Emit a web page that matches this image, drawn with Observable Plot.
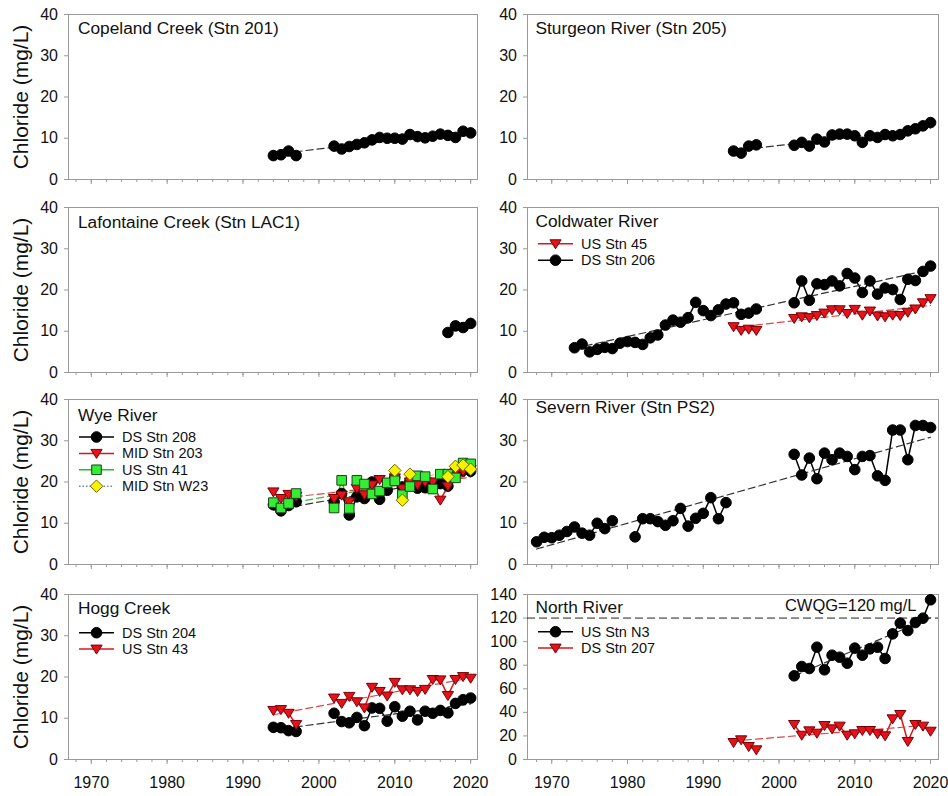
<!DOCTYPE html>
<html>
<head>
<meta charset="utf-8">
<script src="https://cdn.jsdelivr.net/npm/d3@7"></script>
<script src="https://cdn.jsdelivr.net/npm/@observablehq/plot@0.6"></script>
<style>
  body { margin: 0; background: #fff; }
  #wrap { position: relative; width: 948px; height: 796px; background: #fff; overflow: hidden; }
  .panel { position: absolute; }
</style>
</head>
<body>
<div id="wrap"></div>
<script>
// ---------------- DATA ----------------
// 1998 is a gap marker (null value) so lines break between 1997 and 2002
const yearsMain = [1994,1995,1996,1997,1998,2002,2003,2004,2005,2006,2007,2008,2009,2010,2011,2012,2013,2014,2015,2016,2017,2018,2019,2020];

const copelandCl  = [5.8,6.0,6.9,5.8,null,8.1,7.4,8.0,8.5,8.9,9.6,10.2,10.0,10.0,9.8,10.9,10.4,10.1,10.5,11.0,10.7,10.2,11.7,11.3];
const sturgeonCl  = [6.9,6.4,8.1,8.4,null,8.3,9.0,8.1,9.8,9.1,10.8,11.0,11.0,10.6,9.0,10.6,10.2,10.9,10.6,10.9,11.8,12.3,13.0,13.8];

const lafontaineYears = [2017,2018,2019,2020];
const lafontaineCl    = [9.7,11.3,10.9,11.9];

const coldwaterDSYears = [1973,1974,1975,1976,1977,1978,1979,1980,1981,1982,1983,1984,1985,1986,1987,1988,1989,1990,1991,1992,1993,1994,1995,1996,1997,1998,2002,2003,2004,2005,2006,2007,2008,2009,2010,2011,2012,2013,2014,2015,2016,2017,2018,2019,2020];
const coldwaterDSCl    = [6.0,6.9,5.0,5.6,6.1,5.8,7.1,7.5,7.3,6.8,8.4,9.1,11.5,12.7,12.2,13.3,17.0,15.0,13.8,15.2,16.6,16.9,14.1,14.4,15.4,null,16.9,22.2,17.5,21.5,21.3,22.2,21.0,24.0,22.9,19.4,22.2,19.0,20.5,20.1,17.7,22.6,22.3,24.5,25.8];
const coldwaterUSCl    = [11.1,10.2,10.5,10.2,null,13.1,13.5,13.3,13.8,14.4,15.2,15.2,14.3,15.3,13.9,14.9,13.7,13.5,13.9,13.8,14.6,15.4,16.9,17.9];

const wyeDSCl  = [14.5,13.0,14.3,15.2,null,15.2,17.2,12.0,16.4,16.0,20.0,15.8,18.0,21.1,18.8,20.2,18.5,18.6,19.2,19.6,19.0,22.0,22.8,22.6];
const wyeMIDCl = [17.6,16.0,17.0,16.5,null,16.0,16.8,15.2,18.4,16.9,19.3,20.6,19.5,21.0,18.4,20.0,19.3,20.0,20.0,15.6,19.0,22.4,22.6,23.0];
const wyeUSCl  = [15.0,13.7,14.8,17.2,null,13.7,20.4,13.6,20.4,19.5,17.1,17.8,19.8,20.3,16.9,18.9,21.5,21.3,18.3,21.9,21.9,21.0,24.6,24.4];
const wyeW23Years = [2010,2011,2012,2013,2017,2018,2019,2020];
const wyeW23Cl    = [22.8,15.6,21.9,null,21.3,23.8,24.1,23.1];

const severnYears = [1968,1969,1970,1971,1972,1973,1974,1975,1976,1977,1978,1979,1981,1982,1983,1984,1985,1986,1987,1988,1989,1990,1991,1992,1993,1994,2002,2003,2004,2005,2006,2007,2008,2009,2010,2011,2012,2013,2014,2015,2016,2017,2018,2019,2020];
const severnCl    = [5.5,6.6,6.5,7.1,8.0,9.1,7.6,7.1,10.0,8.7,10.6,null,6.7,11.1,11.1,10.4,9.5,10.6,13.6,9.3,11.2,12.4,16.2,11.1,15.0,null,26.7,21.7,25.8,20.8,27.0,25.4,27.0,26.2,23.0,26.2,26.4,21.5,20.4,32.6,32.6,25.4,33.7,33.7,33.2];

const hoggDSCl = [7.8,7.7,7.0,6.8,null,11.2,9.2,8.9,10.2,8.2,12.5,12.4,9.3,12.8,10.5,11.7,9.6,11.7,11.2,11.9,11.3,13.6,14.5,14.9];
const hoggUSCl = [11.9,12.1,11.2,8.5,null,14.9,13.6,15.3,14.0,12.5,17.5,16.5,15.4,18.7,16.9,16.9,16.5,17.0,19.4,19.3,15.5,19.4,20.1,19.7];

const northUSYears = [2002,2003,2004,2005,2006,2007,2008,2009,2010,2011,2012,2013,2014,2015,2016,2017,2018,2019,2020];
const northUSCl    = [71.0,78.9,77.2,95.3,76.1,88.5,86.8,81.7,94.5,88.5,93.9,95.3,85.7,106.6,115.7,109.4,116.2,119.9,135.5];
const northDSCl    = [14.4,16.7,11.0,8.2,null,29.7,20.6,24.3,22.3,28.8,26.0,28.3,20.6,21.8,24.6,24.6,21.8,20.1,34.5,38.2,15.3,29.7,28.3,24.0];
const cwqg = 120;

const xMajorTicks = [1970,1980,1990,2000,2010,2020];
const xMinorTicks = [1968,1970,1972,1974,1976,1978,1980,1982,1984,1986,1988,1990,1992,1994,1996,1998,2000,2002,2004,2006,2008,2010,2012,2014,2016,2018,2020];
const yTicks40  = [0,10,20,30,40];
const yTicks140 = [0,20,40,60,80,100,120,140];

// ---------------- STYLES ----------------
const FONT = '"Liberation Sans", Arial, Helvetica, sans-serif';
const symTriDown = { draw(ctx, size) { const r = Math.sqrt(size / Math.PI);
  ctx.moveTo(-1.12*r, -0.8*r); ctx.lineTo(1.12*r, -0.8*r); ctx.lineTo(0, 1.0*r); ctx.closePath(); } };
const symSquare = { draw(ctx, size) { const r = Math.sqrt(size / Math.PI);
  ctx.moveTo(-r, -r); ctx.lineTo(r, -r); ctx.lineTo(r, r); ctx.lineTo(-r, r); ctx.closePath(); } };
const symDiamond = { draw(ctx, size) { const r = Math.sqrt(size / Math.PI) * 1.25;
  ctx.moveTo(0, -r); ctx.lineTo(r, 0); ctx.lineTo(0, r); ctx.lineTo(-r, 0); ctx.closePath(); } };

const STYLES = {
  black:  {symbol: d3.symbolCircle, r: 5.3, fill: "#000", stroke: "#000", line: "#000", trend: "#333"},
  red:    {symbol: symTriDown, r: 5.0, fill: "#e3121c", stroke: "#7a0000", line: "#d81818", trend: "#e04545"},
  green:  {symbol: symSquare, r: 4.8, fill: "#33ee33", stroke: "#1d3f1d", line: "#22c022", trend: "#3cb83c"},
  yellow: {symbol: symDiamond, r: 5.0, fill: "#f6f200", stroke: "#6e6a00", line: "#7080c8", lineDash: "1.5,2", trend: "#d8d030"}
};

const rowTop = [0, 193, 385, 580];

const panels = [
  {title: "Copeland Creek (Stn 201)", row: 0, col: 0, tdy: 13.7, yTicks: yTicks40,
   series: [{style: "black", years: yearsMain, values: copelandCl}]},
  {title: "Sturgeon River (Stn 205)", row: 0, col: 1, tdy: 13.5, yTicks: yTicks40,
   series: [{style: "black", years: yearsMain, values: sturgeonCl}]},
  {title: "Lafontaine Creek (Stn LAC1)", row: 1, col: 0, tdy: 15, yTicks: yTicks40,
   series: [{style: "black", years: lafontaineYears, values: lafontaineCl}]},
  {title: "Coldwater River", row: 1, col: 1, tdy: 14, yTicks: yTicks40, legendTop: 36.8,
   series: [{style: "red", label: "US Stn 45", years: yearsMain, values: coldwaterUSCl},
            {style: "black", label: "DS Stn 206", years: coldwaterDSYears, values: coldwaterDSCl}]},
  {title: "Wye River", row: 2, col: 0, tdy: 15.7, yTicks: yTicks40, legendTop: 38,
   series: [{style: "black", label: "DS Stn 208", years: yearsMain, values: wyeDSCl},
            {style: "red", label: "MID Stn 203", years: yearsMain, values: wyeMIDCl},
            {style: "green", label: "US Stn 41", years: yearsMain, values: wyeUSCl},
            {style: "yellow", label: "MID Stn W23", years: wyeW23Years, values: wyeW23Cl}]},
  {title: "Severn River (Stn PS2)", row: 2, col: 1, tdy: 7.5, yTicks: yTicks40,
   series: [{style: "black", years: severnYears, values: severnCl}]},
  {title: "Hogg Creek", row: 3, col: 0, tdy: 14.3, yTicks: yTicks40, legendTop: 38.7,
   series: [{style: "black", label: "DS Stn 204", years: yearsMain, values: hoggDSCl},
            {style: "red", label: "US Stn 43", years: yearsMain, values: hoggUSCl}]},
  {title: "North River", row: 3, col: 1, tdy: 12.7, yTicks: yTicks140, legendTop: 37.7, guide: cwqg,
   series: [{style: "black", label: "US Stn N3", years: northUSYears, values: northUSCl},
            {style: "red", label: "DS Stn 207", years: yearsMain, values: northDSCl}]}
];

// ---------------- DRAW ----------------
const wrap = document.getElementById("wrap");

function makePanel(p) {
  const left = p.col === 0, bottom = p.row === 3;
  const width = left ? 480 : 474;
  const height = bottom ? 216 : 193;
  const ml = left ? 68 : 53, mr = left ? 3 : 10, mt = 14, mb = bottom ? 37 : 14;
  const yMax = p.yTicks[p.yTicks.length - 1];
  const marks = [];

  marks.push(Plot.frame({stroke: "#9a9a9a", strokeWidth: 1}));
  marks.push(Plot.axisY(p.yTicks, {anchor: "left", tickSize: 4, tickPadding: 6.5, stroke: "#9a9a9a",
    fill: "#111", fontSize: 16, label: null}));
  marks.push(Plot.axisX(xMinorTicks, {anchor: "bottom", tickSize: 3, tickFormat: () => "", stroke: "#9a9a9a", label: null}));
  marks.push(Plot.axisX(xMajorTicks, {anchor: "bottom", tickSize: 5, tickPadding: 12, stroke: "#9a9a9a",
    fill: "#111", fontSize: 16, label: null, tickFormat: bottom ? (d => String(d)) : (() => "")}));

  if (p.guide != null) {
    marks.push(Plot.ruleY([p.guide], {stroke: "#222", strokeWidth: 1, strokeDasharray: "8,4"}));
    marks.push(Plot.text([`CWQG=${p.guide} mg/L`], {text: d => d, frameAnchor: "top-right", dx: -22, dy: 11,
      textAnchor: "end", lineAnchor: "middle", fontSize: 16.5, fill: "#111"}));
  }

  const datasets = p.series.map(s => ({s, st: STYLES[s.style],
    data: s.years.map((yr, i) => ({year: yr, value: s.values[i]}))}));

  for (const {st, data} of datasets) {
    marks.push(Plot.line(data, {x: "year", y: "value", stroke: st.line, strokeWidth: 1.5,
      strokeDasharray: st.lineDash || null}));
  }
  for (const {st, data} of datasets) {
    marks.push(Plot.linearRegressionY(data, {x: "year", y: "value", stroke: st.trend, strokeWidth: 1.2,
      strokeDasharray: "7,4", ci: 0}));
  }
  for (const {st, data} of datasets) {
    marks.push(Plot.dot(data, {x: "year", y: "value", symbol: st.symbol, r: st.r, fill: st.fill,
      stroke: st.stroke, strokeWidth: 1}));
  }

  marks.push(Plot.text([p.title], {text: d => d, frameAnchor: "top-left", dx: left ? 9.5 : 8, dy: p.tdy,
    textAnchor: "start", lineAnchor: "middle", fontSize: 17.3, fill: "#111"}));

  if (left) {
    marks.push(Plot.text(["Chloride (mg/L)"], {text: d => d, frameAnchor: "left", dx: -47, rotate: -90,
      textAnchor: "middle", lineAnchor: "middle", fontSize: 21, fill: "#111"}));
  }

  const svg = Plot.plot({
    width, height, marginLeft: ml, marginRight: mr, marginTop: mt, marginBottom: mb,
    style: {fontFamily: FONT, fontSize: "16px", background: "none", color: "#111", overflow: "visible"},
    x: {domain: left ? [1967.0, 2020.9] : [1966.8, 2021.05], label: null},
    y: {domain: [0, yMax], label: null},
    marks
  });

  // in-panel legend (line + symbol + label)
  if (p.legendTop != null) {
    const g = d3.select(svg).append("g").attr("font-family", FONT).attr("font-size", 14.5)
      .attr("fill", "#111").attr("text-anchor", "start");
    datasets.forEach(({s, st}, i) => {
      const y = mt + p.legendTop + i * 16.4;
      g.append("line").attr("x1", ml + 11).attr("x2", ml + 46).attr("y1", y).attr("y2", y)
        .attr("stroke", st.line).attr("stroke-width", 1.5).attr("stroke-dasharray", st.lineDash || null);
      g.append("path").attr("transform", `translate(${ml + 28.5},${y})`)
        .attr("d", d3.symbol(st.symbol, Math.PI * st.r * st.r)())
        .attr("fill", st.fill).attr("stroke", st.stroke).attr("stroke-width", 1);
      g.append("text").attr("x", ml + 54).attr("y", y).attr("dy", "0.35em")
        .attr("text-anchor", "start").text(s.label);
    });
  }

  const div = document.createElement("div");
  div.className = "panel";
  div.style.left = (left ? 0 : 474) + "px";
  div.style.top = rowTop[p.row] + "px";
  div.style.width = width + "px";
  div.style.height = height + "px";
  div.appendChild(svg);
  wrap.appendChild(div);
}

panels.forEach(makePanel);
</script>
</body>
</html>
